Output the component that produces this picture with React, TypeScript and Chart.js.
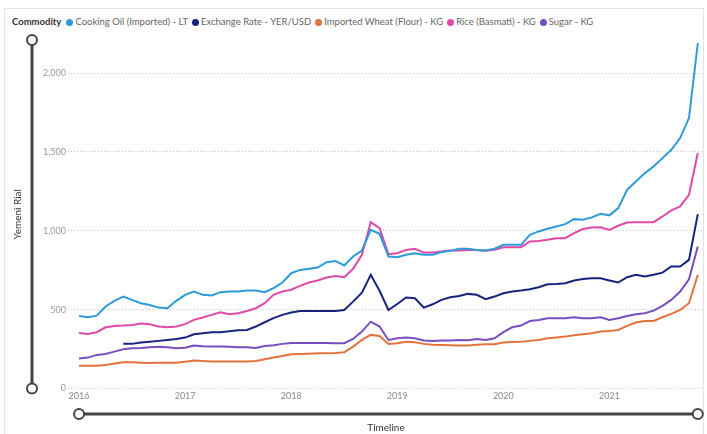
import React, { useEffect, useRef } from "react";
import { Chart, registerables } from "chart.js";

Chart.register(...registerables);

// Monthly timeline: Jan 2016 .. Nov 2021 (71 months)
const startYear = 2016;
const monthCount = 71;
const yearTicks = ["2016", "2017", "2018", "2019", "2020", "2021"];

const seriesNames = [
  "Cooking Oil (Imported) - LT",
  "Exchange Rate - YER/USD",
  "Imported Wheat (Flour) - KG",
  "Rice (Basmati) - KG",
  "Sugar - KG",
];
const seriesColors = ["#2c9bd8", "#16237f", "#e3723c", "#de4aa8", "#7650c0"];

const cookingOil = [
  460, 452, 462, 520, 556, 583, 562, 541, 530, 513, 509, 556,
  594, 615, 594, 590, 611, 615, 615, 621, 621, 611, 636, 672,
  731, 752, 759, 767, 801, 809, 780, 837, 875, 1006, 981, 837,
  833, 848, 858, 848, 848, 865, 873, 886, 886, 879, 875, 886,
  911, 911, 911, 975, 996, 1013, 1027, 1042, 1074, 1070, 1085, 1108,
  1098, 1144, 1260, 1313, 1366, 1408, 1461, 1514, 1588, 1715, 2191,
];
const exchangeRate = [
  null, null, null, null, null, 283, 283, 291, 297, 302, 308, 314,
  323, 344, 350, 357, 357, 363, 369, 371, 393, 420, 446, 467,
  482, 492, 492, 492, 492, 492, 498, 551, 608, 721, 620, 498,
  536, 577, 572, 513, 534, 562, 579, 587, 600, 594, 566, 583,
  604, 615, 621, 630, 642, 661, 663, 668, 685, 695, 699, 699,
  685, 672, 706, 721, 710, 721, 735, 774, 774, 816, 1106,
];
const importedWheat = [
  145, 145, 145, 149, 158, 166, 166, 164, 162, 164, 164, 164,
  170, 177, 175, 172, 172, 172, 172, 172, 175, 185, 196, 206,
  217, 219, 221, 223, 223, 225, 230, 266, 308, 340, 333, 283,
  287, 297, 293, 283, 278, 276, 274, 272, 272, 278, 280, 280,
  291, 295, 297, 302, 308, 318, 323, 329, 338, 344, 350, 361,
  365, 371, 397, 418, 428, 428, 452, 473, 498, 541, 721,
];
const riceBasmati = [
  352, 346, 357, 388, 397, 399, 403, 412, 408, 393, 388, 393,
  408, 435, 450, 467, 484, 471, 477, 492, 509, 541, 594, 615,
  626, 651, 672, 685, 704, 714, 706, 759, 848, 1055, 1017, 852,
  858, 879, 886, 862, 862, 869, 875, 875, 879, 879, 873, 879,
  896, 896, 896, 932, 936, 943, 953, 953, 985, 1011, 1021, 1023,
  1006, 1032, 1053, 1055, 1055, 1055, 1091, 1129, 1155, 1228, 1493,
];
const sugar = [
  191, 196, 213, 219, 234, 249, 255, 257, 261, 264, 261, 255,
  259, 272, 268, 266, 266, 264, 261, 261, 257, 270, 274, 283,
  289, 289, 289, 289, 289, 287, 287, 314, 361, 424, 393, 308,
  318, 323, 318, 304, 302, 304, 304, 308, 306, 314, 308, 318,
  357, 388, 399, 428, 435, 445, 445, 445, 452, 445, 445, 452,
  435, 445, 460, 471, 477, 494, 524, 562, 615, 693, 900,
];
const seriesValues = [cookingOil, exchangeRate, importedWheat, riceBasmati, sugar];
const yTicks = [0, 500, 1000, 1500, 2000];

const FONT = "'Segoe UI', Lato, 'Open Sans', sans-serif";

const sliderPlugin = {
  id: "sliders",
  afterDraw(chart: any) {
    const { ctx, chartArea } = chart;
    const xs = chart.scales.x;
    ctx.save();
    ctx.strokeStyle = "#444";
    ctx.lineWidth = 3;
    const vx = 32;
    const vTop = chartArea.top;
    const vBot = chartArea.bottom;
    ctx.beginPath();
    ctx.moveTo(vx, vTop);
    ctx.lineTo(vx, vBot);
    ctx.stroke();
    const hy = 414;
    const hL = xs.getPixelForValue(0);
    const hR = xs.getPixelForValue(monthCount - 1);
    ctx.beginPath();
    ctx.moveTo(hL, hy);
    ctx.lineTo(hR, hy);
    ctx.stroke();
    const circ = (x: number, y: number) => {
      ctx.beginPath();
      ctx.arc(x, y, 5, 0, Math.PI * 2);
      ctx.fillStyle = "#fff";
      ctx.fill();
      ctx.lineWidth = 2;
      ctx.strokeStyle = "#444";
      ctx.stroke();
    };
    circ(vx, vTop);
    circ(vx, vBot);
    circ(hL, hy);
    circ(hR, hy);
    ctx.restore();
  },
};

export default function App() {
  const ref = useRef<HTMLCanvasElement | null>(null);

  useEffect(() => {
    document.body.style.margin = "0";
    const canvas = ref.current;
    if (!canvas) return;
    const datasets = seriesValues.map((vals, k) => ({
      label: seriesNames[k],
      data: vals.map((v, i) => ({ x: i, y: v })).filter((p) => p.y !== null),
      borderColor: seriesColors[k],
      backgroundColor: seriesColors[k],
      borderWidth: 2,
      pointRadius: 0,
      tension: 0,
      fill: false,
    }));
    const chart = new Chart(canvas, {
      type: "line",
      data: { datasets },
      options: {
        animation: false,
        responsive: false,
        maintainAspectRatio: false,
        layout: { padding: { top: 40, right: 3, left: 0, bottom: 0 } },
        plugins: { legend: { display: false }, tooltip: { enabled: false } },
        scales: {
          x: {
            type: "linear",
            min: -1.25,
            max: 70.7,
            grid: { display: false, drawTicks: false },
            border: { display: false },
            afterBuildTicks: (axis: any) => {
              axis.ticks = yearTicks.map((_, k) => ({ value: k * 12 }));
            },
            afterFit: (scale: any) => {
              scale.height = 45.5;
            },
            ticks: {
              autoSkip: false,
              maxRotation: 0,
              padding: 2,
              color: "#888",
              font: { family: FONT, size: 9 },
              callback: (v: any) => {
                const idx = Math.round(Number(v) / 12);
                return yearTicks[idx] ?? String(startYear + idx);
              },
            },
            title: {
              display: true,
              text: "Timeline",
              color: "#333",
              font: { family: FONT, size: 10 },
              padding: { top: 0, bottom: 0 },
            },
          },
          y: {
            min: 0,
            max: 2210,
            afterBuildTicks: (axis: any) => {
              axis.ticks = yTicks.map((v) => ({ value: v }));
            },
            afterFit: (scale: any) => {
              scale.width = 68;
            },
            grid: {
              color: "#c8c8c8",
              lineWidth: 1,
              drawTicks: false,
            },
            border: { display: false, dash: [1, 2] },
            ticks: {
              padding: 2,
              color: "#999",
              font: { family: FONT, size: 9 },
              callback: (v: any) => Number(v).toLocaleString("en-US"),
            },
            title: {
              display: true,
              text: "Yemeni Rial",
              color: "#333",
              font: { family: FONT, size: 10 },
              padding: { top: 12, bottom: 0 },
            },
          },
        },
      },
      plugins: [sliderPlugin],
    } as any);
    return () => chart.destroy();
  }, []);

  return (
    <div style={{ position: "relative", width: 707, height: 434, overflow: "hidden", background: "#fff", fontFamily: FONT }}>
      <div
        style={{
          position: "absolute",
          left: 4,
          top: 8,
          width: 700,
          height: 440,
          border: "1px solid #dfe4ea",
          boxSizing: "border-box",
        }}
      />
      <div
        style={{
          position: "absolute",
          left: 12,
          top: 15,
          display: "flex",
          alignItems: "center",
          fontSize: 9.5,
          lineHeight: "14px",
          whiteSpace: "nowrap",
          color: "#666",
        }}
      >
        <span style={{ fontWeight: 700, color: "#333", marginRight: 5 }}>Commodity</span>
        {seriesNames.map((n, k) => (
          <span key={n} style={{ display: "flex", alignItems: "center", marginRight: 4 }}>
            <span
              style={{
                display: "inline-block",
                width: 7,
                height: 7,
                borderRadius: "50%",
                background: seriesColors[k],
                marginRight: 2,
              }}
            />
            {n}
          </span>
        ))}
      </div>
      <canvas ref={ref} width={707} height={434} style={{ position: "absolute", left: 0, top: 0 }} />
    </div>
  );
}
